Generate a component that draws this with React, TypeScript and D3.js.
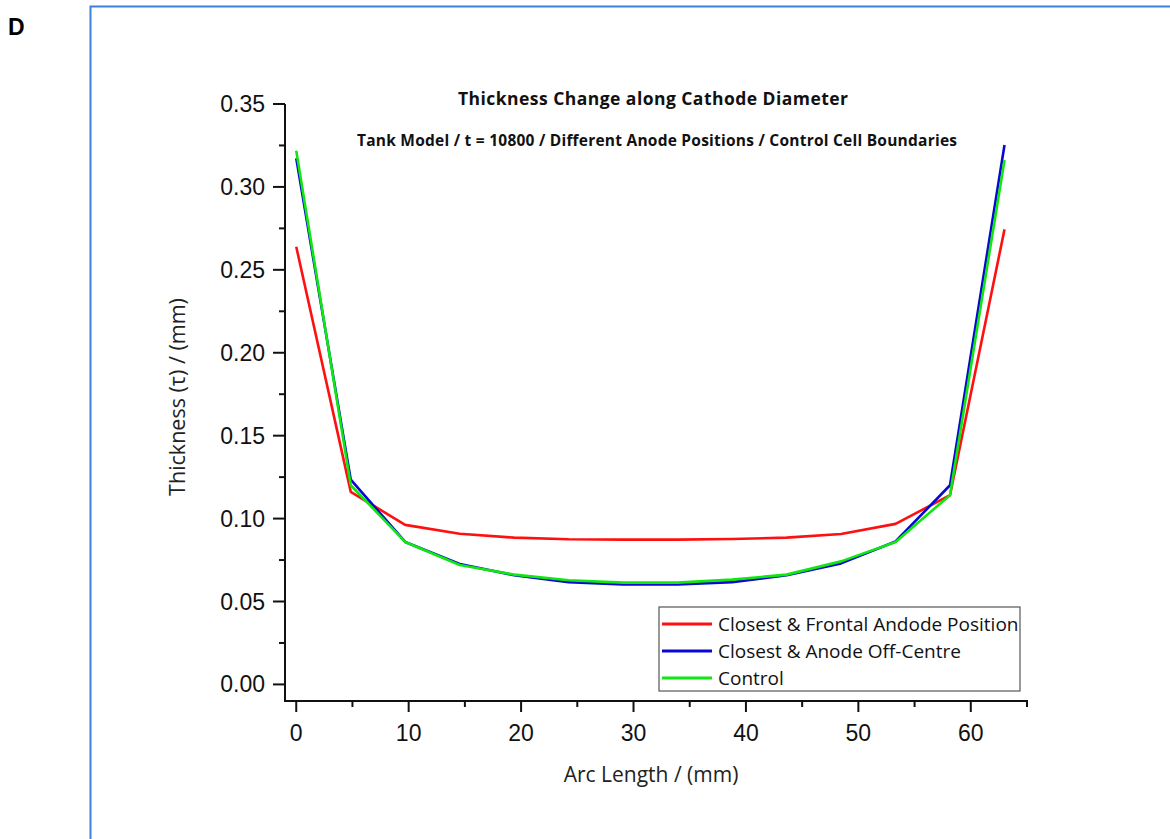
import React from "react";
import * as d3 from "d3";

const arcLength = [0, 4.85, 9.69, 14.54, 19.38, 24.23, 29.08, 33.92, 38.77, 43.62, 48.46, 53.31, 58.15, 63.0];
const frontal = [0.2639, 0.1161, 0.0962, 0.0909, 0.0885, 0.0875, 0.0873, 0.0873, 0.0877, 0.0885, 0.0907, 0.0968, 0.1141, 0.2744];
const offCentre = [0.3172, 0.1235, 0.0859, 0.0726, 0.0658, 0.0617, 0.0603, 0.0603, 0.0617, 0.0658, 0.0730, 0.0862, 0.1201, 0.3253];
const control = [0.3218, 0.1201, 0.0859, 0.0720, 0.0662, 0.0628, 0.0614, 0.0614, 0.0632, 0.0662, 0.0742, 0.0859, 0.1141, 0.3162];

const seriesNames = ["Closest & Frontal Andode Position", "Closest & Anode Off-Centre", "Control"];
const seriesColors = ["#ff1010", "#0808d0", "#10e610"];
const seriesValues = [frontal, offCentre, control];

const xMajorTicks = [0, 10, 20, 30, 40, 50, 60];
const xMinorTicks = [5, 15, 25, 35, 45, 55, 65];
const yMajorTicks = [0, 0.05, 0.1, 0.15, 0.2, 0.25, 0.3, 0.35];
const yMinorTicks = [0.025, 0.075, 0.125, 0.175, 0.225, 0.275, 0.325];

const title = "Thickness Change along Cathode Diameter";
const subtitle = "Tank Model / t = 10800 / Different Anode Positions / Control Cell Boundaries";
const xTitle = "Arc Length / (mm)";
const yTitle = "Thickness (\u03c4) / (mm)";
const panelLabel = "D";

export default function App() {
  const W = 1170;
  const H = 839;
  const x = d3.scaleLinear().domain([-1, 65]).range([285, 1027]);
  const y = d3.scaleLinear().domain([-0.01, 0.35]).range([701, 104]);
  const line = d3
    .line<[number, number]>()
    .x((d) => x(d[0]))
    .y((d) => y(d[1]));

  const axisColor = "#111";
  const tickFont = "'Liberation Sans', Arial, sans-serif";
  const textFont = "'Open Sans', 'DejaVu Sans', sans-serif";

  const legX = 659;
  const legY = 607;
  const legW = 361;
  const legH = 84;
  const rowGap = 27;

  return (
    <svg
      width={W}
      height={H}
      style={{ position: "absolute", left: 0, top: 0, background: "#fff" }}
    >
      <rect x={0} y={0} width={W} height={H} fill="#fff" />
      <path d={`M90.5,${H} V6.5 H${W}`} fill="none" stroke="#3b82dc" strokeWidth={2} />
      <text x={8} y={35} fontFamily={tickFont} fontWeight="bold" fontSize={23} fill="#000">
        {panelLabel}
      </text>

      <text x={653} y={105} textAnchor="middle" fontFamily={textFont} fontWeight="bold" fontSize={17.5}
        textLength={390} lengthAdjust="spacing" fill="#111">
        {title}
      </text>
      <text x={657} y={146} textAnchor="middle" fontFamily={textFont} fontWeight="bold" fontSize={15.5}
        textLength={600} lengthAdjust="spacing" fill="#111">
        {subtitle}
      </text>

      {/* series */}
      {seriesValues.map((vals, i) => (
        <path
          key={i}
          d={line(arcLength.map((a, j) => [a, vals[j]] as [number, number])) || ""}
          fill="none"
          stroke={seriesColors[i]}
          strokeWidth={2.6}
          strokeLinejoin="round"
        />
      ))}

      {/* axes */}
      <line x1={x(-1)} x2={x(-1)} y1={y(0.35)} y2={y(-0.01) + 1} stroke={axisColor} strokeWidth={2} />
      <line x1={x(-1) - 1} x2={x(65) + 1} y1={y(-0.01)} y2={y(-0.01)} stroke={axisColor} strokeWidth={2} />

      {yMajorTicks.map((t) => (
        <g key={"ym" + t}>
          <line x1={x(-1) - 12} x2={x(-1)} y1={y(t)} y2={y(t)} stroke={axisColor} strokeWidth={2} />
          <text
            x={x(-1) - 20}
            y={y(t) + 8}
            textAnchor="end"
            fontFamily={tickFont}
            fontSize={23}
            fill="#111"
          >
            {d3.format(".2f")(t)}
          </text>
        </g>
      ))}
      {yMinorTicks.map((t) => (
        <line key={"yn" + t} x1={x(-1) - 6} x2={x(-1)} y1={y(t)} y2={y(t)} stroke={axisColor} strokeWidth={2} />
      ))}
      {xMajorTicks.map((t) => (
        <g key={"xm" + t}>
          <line x1={x(t)} x2={x(t)} y1={y(-0.01)} y2={y(-0.01) + 11} stroke={axisColor} strokeWidth={2} />
          <text x={x(t)} y={741} textAnchor="middle" fontFamily={tickFont} fontSize={23} fill="#111">
            {t}
          </text>
        </g>
      ))}
      {xMinorTicks.map((t) => (
        <line key={"xn" + t} x1={x(t)} x2={x(t)} y1={y(-0.01)} y2={y(-0.01) + 6} stroke={axisColor} strokeWidth={2} />
      ))}

      <text x={651} y={782} textAnchor="middle" fontFamily={textFont} fontSize={21} fill="#222">
        {xTitle}
      </text>
      <text
        transform={`translate(185,397) rotate(-90)`}
        textAnchor="middle"
        fontFamily={textFont}
        fontSize={21.5}
        fill="#222"
      >
        {yTitle}
      </text>

      {/* legend */}
      <rect x={legX} y={legY} width={legW} height={legH} fill="#fff" stroke="#555" strokeWidth={1.2} />
      {seriesNames.map((name, i) => (
        <g key={name}>
          <line
            x1={legX + 3}
            x2={legX + 53}
            y1={legY + 17 + i * rowGap}
            y2={legY + 17 + i * rowGap}
            stroke={seriesColors[i]}
            strokeWidth={3}
          />
          <text
            x={legX + 59}
            y={legY + 23.5 + i * rowGap}
            fontFamily={textFont}
            fontSize={19}
            fill="#111"
          >
            {name}
          </text>
        </g>
      ))}
    </svg>
  );
}
